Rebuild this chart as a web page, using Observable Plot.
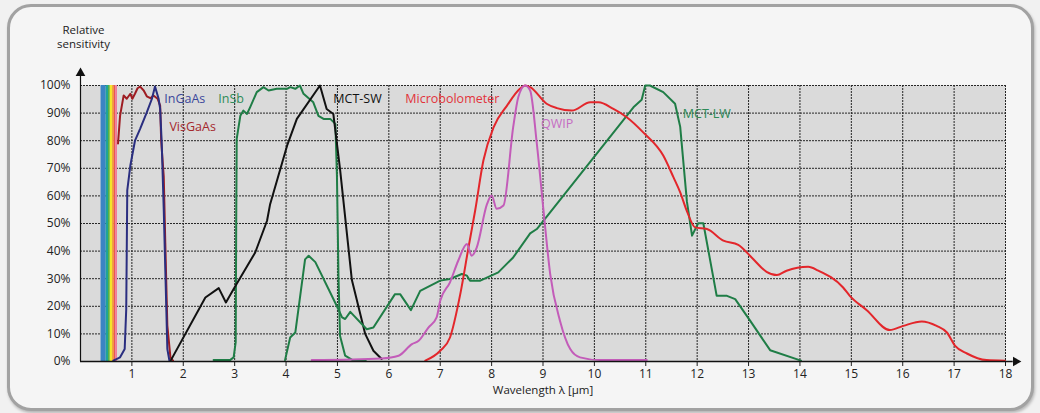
<!DOCTYPE html>
<html><head><meta charset="utf-8">
<script src="https://cdn.jsdelivr.net/npm/d3@7"></script>
<script src="https://cdn.jsdelivr.net/npm/@observablehq/plot@0.6"></script>
<style>
html,body{margin:0;padding:0;background:#f3f3f3;}
#wrap{position:relative;width:1040px;height:413px;overflow:hidden;background:#f1f1f1;}
#box{position:absolute;left:7px;top:4px;width:1021px;height:401px;border:3px solid #a2a2a2;border-radius:24px;background:#f5f5f5;box-shadow:1px 2px 3px rgba(0,0,0,0.25);}
#chart{position:absolute;left:0;top:0;}
</style></head>
<body><div id="wrap"><div id="box"></div><div id="chart"></div></div>
<script>
// ---- data (wavelength µm, relative sensitivity %) ----
const visGaAs = [[0.73,79],[0.77,89],[0.84,96.4],[0.90,95.2],[0.97,97],[1.01,95.2],[1.06,97],[1.11,99],[1.16,99.6],[1.23,98.2],[1.29,96.1],[1.36,95.4],[1.42,96.4],[1.50,95.2],[1.55,92.7],[1.57,80],[1.62,67],[1.65,43],[1.69,13],[1.75,1.5],[1.80,0.3]];
const inGaAs = [[0.64,0.3],[0.77,1.5],[0.86,4.5],[0.89,19],[0.90,40],[0.91,62],[0.97,71],[1.06,80],[1.16,84.3],[1.29,90.3],[1.39,95.2],[1.45,99.6],[1.52,95.2],[1.55,91.5],[1.58,79.4],[1.62,55],[1.67,19],[1.69,4.5],[1.73,0.3]];
const inSb = [[2.59,0.5],[2.91,0.5],[2.98,1.5],[3.02,7],[3.03,50],[3.04,80.7],[3.11,89],[3.17,90.9],[3.24,89.7],[3.30,92.1],[3.43,97.6],[3.56,99.4],[3.66,98.2],[3.82,98.8],[4.02,98.8],[4.08,99.4],[4.18,98.8],[4.27,100],[4.34,97],[4.53,93.9],[4.63,89],[4.73,87.9],[4.86,87.9],[4.96,86.1],[4.99,67.4],[5.02,31],[5.05,9.3],[5.15,2.1],[5.31,0.3],[5.55,0.3]];
const mctSW = [[1.76,0.5],[2.43,23.2],[2.69,26.6],[2.83,21.4],[2.98,26.3],[3.40,39.5],[3.63,51],[3.69,57],[4.02,78.2],[4.21,87.9],[4.66,100],[4.79,91.5],[4.92,89.7],[5.05,69.8],[5.28,29.6],[5.54,10],[5.70,3.9],[5.86,0.9]];
const mctLW = [[3.98,0.5],[4.08,8.7],[4.18,10.5],[4.37,37],[4.44,38.3],[4.57,36],[4.99,20],[5.09,16],[5.15,15.4],[5.25,18],[5.57,11.7],[5.70,12.3],[6.12,24.4],[6.22,24.4],[6.43,18.6],[6.61,25.6],[7.0,29.3],[7.19,29.9],[7.42,31.7],[7.52,31.1],[7.58,29.3],[7.78,29.3],[8.13,32.3],[8.42,37.7],[8.75,46.4],[8.88,48],[10.76,92.1],[10.92,94.8],[10.99,100],[11.08,100],[11.34,97.6],[11.57,93.4],[11.67,85],[11.80,58],[11.90,45.6],[12.02,50.1],[12.12,50.1],[12.38,23.8],[12.58,23.8],[12.74,22.6],[13.03,14.8],[13.42,4.1],[14.02,0.3]];
const microbolometer = [[6.71,0.3],[7.0,3.9],[7.19,8.7],[7.39,24.4],[7.55,41.3],[7.68,54.7],[7.84,72.8],[8.04,84.9],[8.30,92.7],[8.55,98.8],[8.65,100],[8.75,99.4],[9.07,93.4],[9.27,91.8],[9.56,90.9],[9.92,93.9],[10.08,93.9],[10.37,91.5],[10.63,88.5],[10.95,83],[11.34,74.6],[11.54,66.7],[11.67,61.3],[11.80,54.5],[11.96,48.6],[12.19,48],[12.51,43.8],[12.80,42.3],[13.06,37.7],[13.35,32.5],[13.55,31.3],[13.74,32.9],[14.16,34.3],[14.36,32.9],[14.84,26.8],[14.97,23.8],[15.30,18.6],[15.75,11.4],[16.01,12.9],[16.37,14.5],[16.66,12.9],[16.86,10.5],[17.02,5.7],[17.25,2.9],[17.63,0.5],[17.99,0.3]];
const qwip = [[4.50,0.5],[5.86,1.1],[6.19,2.1],[6.45,6.3],[6.58,7.5],[6.77,12.3],[6.93,16],[7.0,22],[7.19,28.7],[7.35,36.5],[7.52,42.6],[7.61,38.3],[7.71,41.3],[7.91,57],[8.0,60.1],[8.10,55.3],[8.23,56.5],[8.42,84.9],[8.52,95.8],[8.65,100],[8.75,98.2],[8.88,78.9],[9.01,54.7],[9.14,31.7],[9.33,14.8],[9.53,4.5],[9.72,1.5],[10.11,0.5],[11.02,0.5]];

const seriesNames = ["VisGaAs","InGaAs","InSb","MCT-SW","MCT-LW","Microbolometer","QWIP"];
const seriesData = [visGaAs, inGaAs, inSb, mctSW, mctLW, microbolometer, qwip];
const seriesColors = ["#9e1c22","#2a2e80","#1f7d46","#111111","#1f7d46","#e3262b","#c35cb9"];
const seriesSmooth = [false,false,false,false,false,true,true];

const labelNames = ["InGaAs","InSb","VisGaAs","MCT-SW","Microbolometer","QWIP","MCT-LW"];
const labelX = [1.63, 2.68, 1.73, 4.92, 6.32, 8.96, 11.72];
const labelY = [95, 95, 85, 95, 95, 86, 89.5];
const labelColors = ["#3a479a","#2e8b57","#a5282d","#111111","#e2333a","#c56cc3","#2e8b57"];

const rainbowStart = [0.40,0.50,0.545,0.58,0.625,0.66,0.69];
const rainbowEnd   = [0.50,0.545,0.58,0.625,0.66,0.69,0.72];
const rainbowColors = ["#3b84c4","#1ea39a","#52b246","#f2e52a","#f39a33","#ea5358","#f27a9a"];

const xTicks = [1,2,3,4,5,6,7,8,9,10,11,12,13,14,15,16,17,18];
const yTicks = [0,10,20,30,40,50,60,70,80,90,100];

// ---- build ----
const rows = seriesData.flatMap((s, i) => s.map(([x, y]) => ({series: seriesNames[i], x, y})));
const bands = rainbowStart.map((x1, i) => ({x1, x2: rainbowEnd[i], color: rainbowColors[i]}));
const labels = labelNames.map((t, i) => ({t, x: labelX[i], y: labelY[i], c: labelColors[i]}));

const lineMarks = seriesNames.map((name, i) =>
  Plot.line(rows.filter(d => d.series === name), {
    x: "x", y: "y", stroke: seriesColors[i], strokeWidth: 2,
    curve: seriesSmooth[i] ? "monotone-x" : "linear", strokeLinejoin: "round"
  })
);

const gridStyle = {stroke: "#262626", strokeOpacity: 1, strokeWidth: 1, strokeDasharray: "2,1"};

const chart = Plot.plot({
  width: 1040, height: 413,
  marginLeft: 80, marginRight: 35, marginTop: 85, marginBottom: 52,
  style: {background: "transparent", fontFamily: "'Open Sans', sans-serif", fontSize: "12px", color: "#222"},
  x: {domain: [0, 18]},
  y: {domain: [0, 100]},
  marks: [
    Plot.frame({fill: "#dadada", stroke: null}),
    Plot.gridX(xTicks, gridStyle),
    Plot.gridY(yTicks.slice(1), gridStyle),
    Plot.rect(bands, {x1: "x1", x2: "x2", y1: 0, y2: 100, fill: "color"}),
    ...lineMarks,
    Plot.axisX(xTicks, {tickSize: 5, tickPadding: 3, label: null, fontSize: 12, stroke: "#222"}),
    Plot.axisY(yTicks, {tickSize: 0, tickPadding: 10, tickFormat: d => d + "%", label: null, fontSize: 12}),
    Plot.ruleY([0], {x1: 0, x2: 18.15, stroke: "#111", strokeWidth: 1.4}),
    Plot.ruleX([0], {y1: 0, y2: 104, stroke: "#111", strokeWidth: 1.2}),
    Plot.dot([{x: 18.2, y: 0}], {x: "x", y: "y", symbol: "triangle", rotate: 90, r: 3.6, fill: "#111", stroke: null}),
    Plot.dot([{x: 0, y: 104.5}], {x: "x", y: "y", symbol: "triangle", r: 3.6, fill: "#111", stroke: null}),
    Plot.text(labels, {x: "x", y: "y", text: "t", fill: "c", textAnchor: "start", fontSize: 12.5}),
    Plot.text(["Relative"], {frameAnchor: "top-left", dx: 3, dy: -55, textAnchor: "middle", lineAnchor: "middle", fontSize: 11.5, fill: "#222"}),
    Plot.text(["sensitivity"], {frameAnchor: "top-left", dx: 3, dy: -41, textAnchor: "middle", lineAnchor: "middle", fontSize: 11.5, fill: "#222"}),
    Plot.text(["Wavelength λ [µm]"], {frameAnchor: "bottom", dy: 29, textAnchor: "middle", lineAnchor: "middle", fontSize: 11.5, fill: "#222"})
  ]
});
document.getElementById("chart").appendChild(chart);
</script></body></html>
